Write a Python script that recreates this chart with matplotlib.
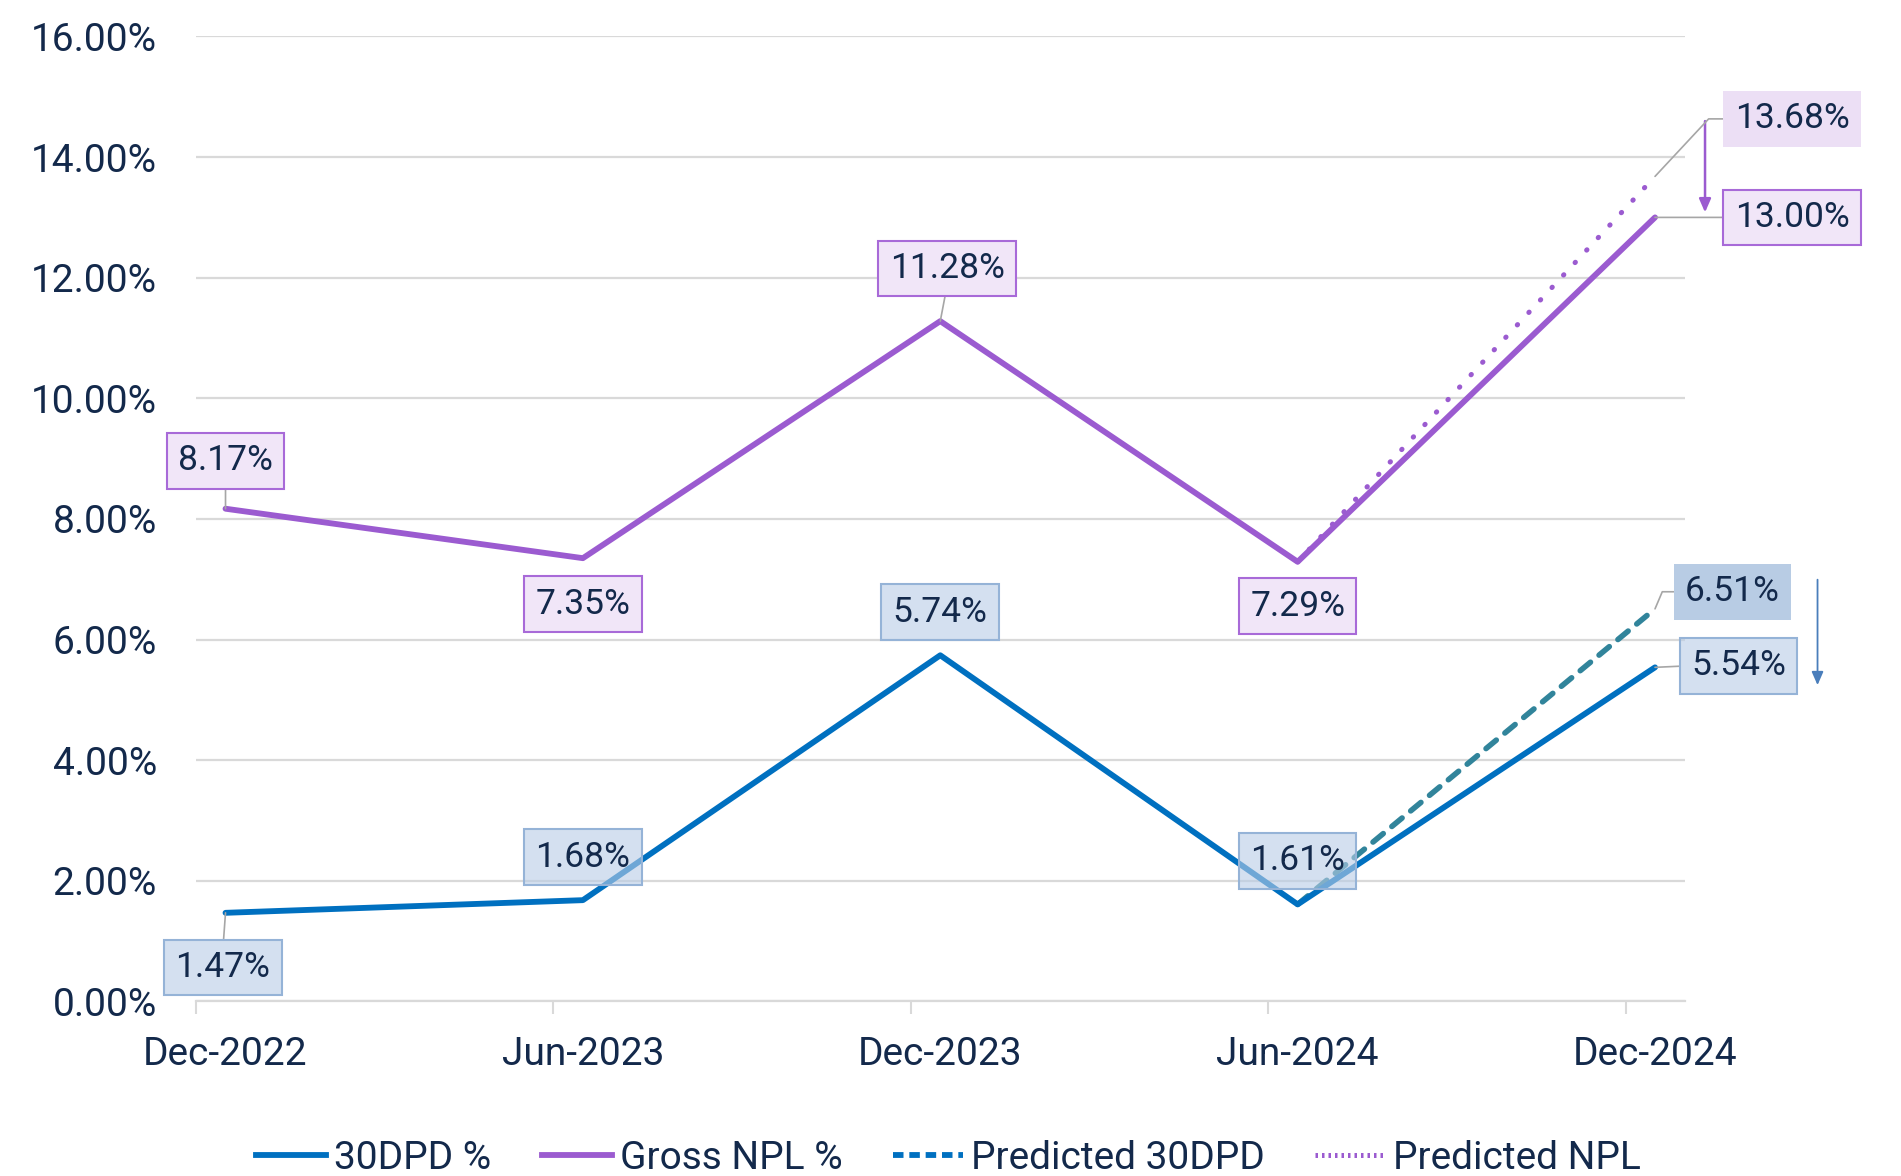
import matplotlib.pyplot as plt
import numpy as np
from matplotlib.lines import Line2D
from matplotlib.transforms import offset_copy

# data
periods = ["Dec-2022", "Jun-2023", "Dec-2023", "Jun-2024", "Dec-2024"]
dpd30 = [1.47, 1.68, 5.74, 1.61, 5.54]
gross_npl = [8.17, 7.35, 11.28, 7.29, 13.00]
pred_dpd30 = [np.nan, np.nan, np.nan, 1.61, 6.51]
pred_npl = [np.nan, np.nan, np.nan, 7.29, 13.68]
y_ticks = [0, 2, 4, 6, 8, 10, 12, 14, 16]

BLUE = "#0070c0"
PURPLE = "#9b5bd0"
TEAL = "#31849b"
TEXT = "#13294b"
GRID = "#d9d9d9"

plt.rcParams["font.family"] = ["Roboto", "DejaVu Sans"]

fig = plt.figure(figsize=(19.01, 11.76), dpi=100)
ax = fig.add_axes([0.1031, 0.1484, 0.7833, 0.8206])

x = np.arange(len(periods))

ax.plot(x, pred_dpd30, color=TEAL, lw=4.0, dashes=(2.4, 2.0), dash_capstyle="round", zorder=2)
ax.plot(x, pred_npl, color=PURPLE, lw=3.6, dashes=(0.1, 3.3), dash_capstyle="round", zorder=2)
ax.plot(x, dpd30, color=BLUE, lw=4.2, solid_capstyle="round", zorder=3)
ax.plot(x, gross_npl, color=PURPLE, lw=4.2, solid_capstyle="round", zorder=3)

ax.set_xlim(-0.0826, 4.084)
ax.set_ylim(0, 16)
ax.set_yticks(y_ticks)
ax.set_yticklabels([f"{v:.2f}%" for v in y_ticks])
ax.set_xticks(x)
ax.set_xticklabels(periods)
ax.set_xticks(x - 0.0826, minor=True)
ax.tick_params(axis="x", which="major", length=0, pad=25, labelsize=28, labelcolor=TEXT)
ax.tick_params(axis="x", which="minor", length=9, width=1.5, color=GRID)
ax.tick_params(axis="y", length=0, pad=28, labelsize=28, labelcolor=TEXT)
ax.grid(axis="y", color=GRID, lw=1.6)
ax.set_axisbelow(True)
for s in ["top", "right", "left"]:
    ax.spines[s].set_visible(False)
ax.spines["bottom"].set_color(GRID)
ax.spines["bottom"].set_linewidth(1.6)

purple_box = dict(boxstyle="square,pad=0.32", fc="#f1e6f8", ec="#a86ad8", lw=1.5)
blue_box = dict(boxstyle="square,pad=0.32", fc=(0.72, 0.80, 0.90, 0.6), ec="#95b3d7", lw=1.5)
leader = dict(arrowstyle="-", color="#a6a6a6", lw=1.2, shrinkA=0, shrinkB=0)
LFS = 25.5

# (index, offset in points, relpos of leader on the box)
npl_labels = [(0, (0, 34.5), (0.5, 0)), (1, (0, -33), None), (2, (5, 38), (0.5, 0)),
              (3, (0, -32), None)]
for i, off, rp in npl_labels:
    arrow = dict(leader, relpos=rp) if rp else None
    ax.annotate(f"{gross_npl[i]:.2f}%", (x[i], gross_npl[i]), xytext=off, textcoords="offset points",
                ha="center", va="center", fontsize=LFS, color=TEXT, bbox=purple_box,
                arrowprops=arrow, zorder=5)

dpd_labels = [(0, (-2, -39.4), (0.5, 1)), (1, (0, 31), None), (2, (0, 31), None),
              (3, (0, 31.4), None)]
for i, off, rp in dpd_labels:
    arrow = dict(leader, relpos=rp) if rp else None
    ax.annotate(f"{dpd30[i]:.2f}%", (x[i], dpd30[i]), xytext=off, textcoords="offset points",
                ha="center", va="center", fontsize=LFS, color=TEXT, bbox=blue_box,
                arrowprops=arrow, zorder=5)

# Dec-2024 labels on the right
ax.annotate(f"{gross_npl[4]:.2f}%", (x[4], gross_npl[4]), xytext=(98.6, 0), textcoords="offset points",
            ha="center", va="center", fontsize=LFS, color=TEXT, bbox=purple_box,
            arrowprops=dict(leader, relpos=(0, 0.5)), zorder=5, annotation_clip=False)
ax.annotate(f"{pred_npl[4]:.2f}%", (x[4], pred_npl[4]), xytext=(98.6, 41.4), textcoords="offset points",
            ha="center", va="center", fontsize=LFS, color=TEXT,
            bbox=dict(boxstyle="square,pad=0.32", fc="#ecdff5", ec="none"),
            arrowprops=dict(leader, relpos=(0, 0.5), connectionstyle="angle,angleA=0,angleB=47,rad=0"),
            zorder=5, annotation_clip=False)
ax.annotate(f"{dpd30[4]:.2f}%", (x[4], dpd30[4]), xytext=(60.2, 1.2), textcoords="offset points",
            ha="center", va="center", fontsize=LFS, color=TEXT, bbox=blue_box,
            arrowprops=dict(leader, relpos=(0, 0.5)), zorder=5, annotation_clip=False)
ax.annotate(f"{pred_dpd30[4]:.2f}%", (x[4], pred_dpd30[4]), xytext=(55.8, 12.3), textcoords="offset points",
            ha="center", va="center", fontsize=LFS, color=TEXT,
            bbox=dict(boxstyle="square,pad=0.32", fc="#b8cce4", ec="none"),
            arrowprops=dict(leader, relpos=(0, 0.5), connectionstyle="angle,angleA=0,angleB=67,rad=0"),
            zorder=5, annotation_clip=False)

# arrows from predicted to actual
ax.annotate("", xy=(x[4], gross_npl[4]), xycoords=offset_copy(ax.transData, fig=fig, x=36, y=3.6, units="points"),
            xytext=(x[4], pred_npl[4]), textcoords=offset_copy(ax.transData, fig=fig, x=36, y=39.8, units="points"),
            arrowprops=dict(arrowstyle="-|>,head_length=0.8,head_width=0.35", color=PURPLE, lw=1.8,
                            shrinkA=0, shrinkB=0), annotation_clip=False)
ax.annotate("", xy=(x[4], dpd30[4]), xycoords=offset_copy(ax.transData, fig=fig, x=117, y=-12.8, units="points"),
            xytext=(x[4], pred_dpd30[4]), textcoords=offset_copy(ax.transData, fig=fig, x=117, y=21, units="points"),
            arrowprops=dict(arrowstyle="-|>,head_length=0.8,head_width=0.35", color="#4a7ebb", lw=1.3,
                            shrinkA=0, shrinkB=0), annotation_clip=False)

handles = [
    Line2D([], [], color=BLUE, lw=4.2),
    Line2D([], [], color=PURPLE, lw=4.2),
    Line2D([], [], color=BLUE, lw=4.2, dashes=(1.8, 1.0)),
    Line2D([], [], color=PURPLE, lw=3.6, dashes=(0.5, 0.8)),
]
labels = ["30DPD %", "Gross NPL %", "Predicted 30DPD", "Predicted NPL"]
fig.legend(handles, labels, loc="center", bbox_to_anchor=(0.499, 0.015), ncol=4, frameon=False,
           fontsize=28, labelcolor=TEXT, handlelength=1.8, handletextpad=0.2, columnspacing=1.3)

fig.savefig("out.png", dpi=100)
